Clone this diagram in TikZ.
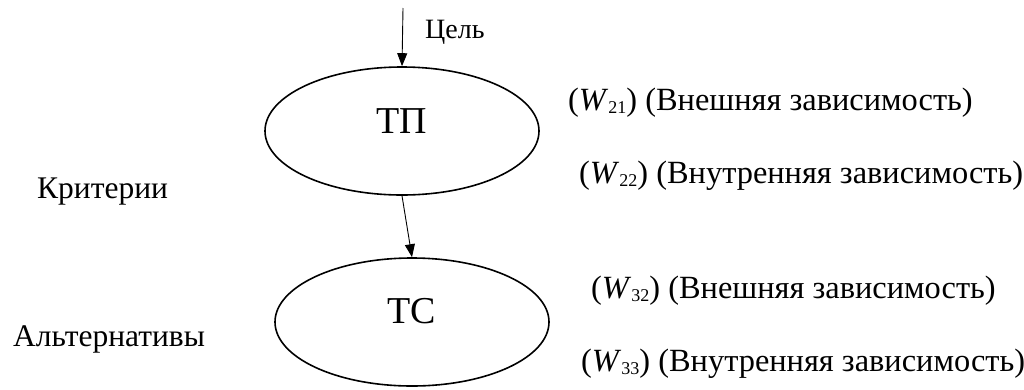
\documentclass[tikz,border=0pt]{standalone}
\usepackage{fontspec}
\setmainfont{Liberation Serif}
\usetikzlibrary{shapes.geometric,arrows.meta}
\newcommand\Wsub[1]{\textit{W}\raisebox{-0.12em}{\fontsize{18}{20}\selectfont #1}}
\begin{document}
\begin{tikzpicture}[x=1pt,y=-1pt,
  oval/.style={draw,ellipse,line width=1.6pt,minimum width=274pt,minimum height=128pt,inner sep=0pt},
  big/.style={font=\fontsize{38}{42}\selectfont,inner sep=0pt},
  txt/.style={font=\fontsize{31.5}{36}\selectfont,inner sep=0pt,anchor=base west},
  rtxt/.style={txt,font=\fontsize{32.4}{36}\selectfont},
  arr/.style={line width=0.9pt,-{Triangle[length=13pt,width=10pt]}}]
\useasboundingbox (0,0) rectangle (1024,389);
\node[oval] (tp) at (402,131) {};
\node[oval] (tc) at (412,322) {};
\node[big] (tptext) at (402,121) {ТП};
\node[big] (tctext) at (412,311) {ТС};
\coordinate (goal) at (403,8);
\draw[arr] (goal) -- (tp.north);
\draw[arr] (tp.south) -- (tc.north);
\node[txt,font=\fontsize{28}{32}\selectfont] (goaltext) at (425,38) {Цель};
\node[txt] (crit) at (37,198) {Критерии};
\node[txt] (alt) at (13,346) {Альтернативы};
\node[rtxt] (w21) at (568,110) {(\Wsub{21}) (Внешняя зависимость)};
\node[rtxt] (w22) at (579,183) {(\Wsub{22}) (Внутренняя зависимость)};
\node[rtxt] (w32) at (591,298) {(\Wsub{32}) (Внешняя зависимость)};
\node[rtxt] (w33) at (581,371) {(\Wsub{33}) (Внутренняя зависимость)};
\end{tikzpicture}
\end{document}
